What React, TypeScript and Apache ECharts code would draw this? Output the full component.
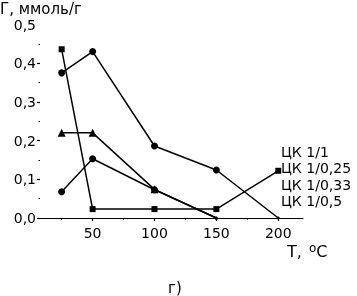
import React, { useEffect, useRef } from "react";
import * as echarts from "echarts";

const temps = [25, 50, 100, 150, 200];
const seriesNames = ["ЦК 1/1", "ЦК 1/0,25", "ЦК 1/0,33", "ЦК 1/0,5"];
const ck1_1 = [0.375, 0.43, 0.186, 0.124, 0];
const ck1_025 = [0.436, 0.023, 0.023, 0.023, 0.122];
const ck1_033 = [0.22, 0.22, 0.074, 0];
const ck1_05 = [0.068, 0.153, 0.073, 0];
const xMajorTicks = [50, 100, 150, 200];
const xMinorTicks = [25, 75, 125, 175];
const yMajorTicks = [0, 0.1, 0.2, 0.3, 0.4];
const yTitle = "Г, ммоль/г";
const panelLabel = "г)";

const FONT = "DejaVu Sans";

export default function App() {
  const ref = useRef<HTMLDivElement>(null);
  useEffect(() => {
    if (!ref.current) return;
    const chart = echarts.init(ref.current, null, { renderer: "svg" });
    const pairs = (vals: number[]) => vals.map((v, i) => [temps[i], v]);
    const sz = (base: number) => (v: number[]) => (v[1] === 0 ? 3 : base);
    const line = { color: "#000", width: 1.5 };
    const xCommon = {
      type: "value" as const,
      min: 7.5,
      max: 220,
      splitLine: { show: false },
    };
    chart.setOption({
      animation: false,
      grid: { left: 40, right: 54, top: 24.5, bottom: 78 },
      xAxis: [
        {
          ...xCommon,
          axisLine: { show: true, lineStyle: { color: "#000", width: 1.2 } },
          axisTick: {
            show: true,
            inside: false,
            length: 3,
            customValues: xMajorTicks,
            lineStyle: { color: "#000", width: 1.2 },
          },
          axisLabel: {
            customValues: xMajorTicks,
            color: "#000",
            fontFamily: FONT,
            fontSize: 14,
            margin: 8,
          },
        },
        {
          ...xCommon,
          position: "bottom",
          axisLine: { show: false },
          axisTick: {
            show: true,
            inside: false,
            length: 1.5,
            customValues: xMinorTicks,
            lineStyle: { color: "#000", width: 1 },
          },
          axisLabel: { show: false },
        },
      ],
      yAxis: {
        type: "value",
        min: 0,
        max: 0.5,
        interval: 0.1,
        splitLine: { show: false },
        axisLine: { show: false },
        axisTick: {
          show: true,
          inside: false,
          length: 3,
          customValues: yMajorTicks,
          lineStyle: { color: "#000", width: 1.2 },
        },
        minorTick: {
          show: true,
          splitNumber: 2,
          length: 1.5,
          lineStyle: { color: "#000", width: 1 },
        },
        axisLabel: {
          color: "#000",
          fontFamily: FONT,
          fontSize: 14,
          margin: 4,
          verticalAlign: "middle",
          formatter: (v: number) => v.toFixed(1).replace(".", ","),
        },
      },
      series: [
        {
          name: seriesNames[0],
          type: "line",
          data: pairs(ck1_1),
          symbol: "circle",
          symbolSize: sz(7),
          lineStyle: line,
          itemStyle: { color: "#000" },
        },
        {
          name: seriesNames[1],
          type: "line",
          data: pairs(ck1_025),
          symbol: "rect",
          symbolSize: 6,
          lineStyle: line,
          itemStyle: { color: "#000" },
        },
        {
          name: seriesNames[2],
          type: "line",
          data: pairs(ck1_033),
          symbol: "triangle",
          symbolSize: sz(8),
          lineStyle: line,
          itemStyle: { color: "#000" },
        },
        {
          name: seriesNames[3],
          type: "line",
          data: pairs(ck1_05),
          symbol: "circle",
          symbolSize: sz(7),
          lineStyle: line,
          itemStyle: { color: "#000" },
        },
      ],
      graphic: [
        {
          type: "text",
          left: 0,
          top: 1,
          style: {
            text: yTitle,
            fill: "#000",
            font: `15px "${FONT}"`,
            lineHeight: 15,
          },
        },
        ...seriesNames.map((n, i) => ({
          type: "text",
          left: 281,
          top: 145 + i * 16.4,
          style: { text: n, fill: "#000", font: `14px "${FONT}"` },
        })),
        {
          type: "text",
          left: 287,
          top: 242,
          style: {
            text: "T, {sup|o}C",
            fill: "#000",
            font: `16px "${FONT}"`,
            rich: {
              sup: {
                fontSize: 12,
                fontFamily: FONT,
                fill: "#000",
                verticalAlign: "top",
                padding: [0, 0, 6, 2],
              },
            },
          },
        },
        {
          type: "text",
          left: 168,
          top: 280,
          style: { text: panelLabel, fill: "#000", font: `15px "${FONT}"` },
        },
      ],
    });
    return () => chart.dispose();
  }, []);
  return (
    <div
      ref={ref}
      style={{ position: "fixed", left: 0, top: 0, width: 357, height: 296 }}
    />
  );
}
